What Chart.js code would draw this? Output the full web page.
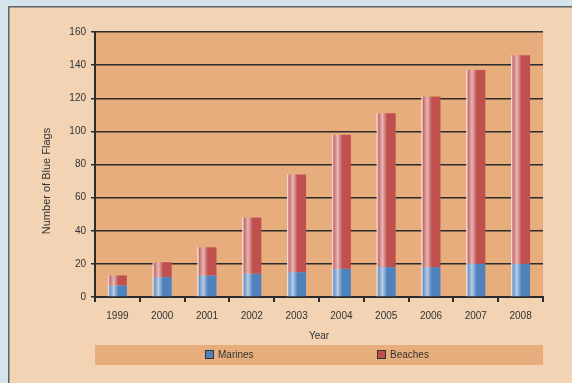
<!DOCTYPE html>
<html>
<head>
<meta charset="utf-8">
<script src="https://cdn.jsdelivr.net/npm/chart.js@4.4.1/dist/chart.umd.min.js"></script>
<style>
  html, body { margin: 0; padding: 0; background: #d5e4ec; }
  #wrap { width: 572px; height: 383px; }
</style>
</head>
<body>
<div id="wrap"><canvas id="flags" width="572" height="383"></canvas></div>
<script>
// ----------------------- Data ----------------------------------
const years = ['1999', '2000', '2001', '2002', '2003', '2004', '2005', '2006', '2007', '2008'];
const marines = [7, 12, 13, 14, 15, 17, 18, 18, 20, 20];
const beaches = [6, 9, 17, 34, 59, 81, 93, 103, 117, 126];
const yTicks = [0, 20, 40, 60, 80, 100, 120, 140, 160];

const BLUE = '#4f81bd';
const RED = '#c0504d';
const AXIS = '#2b2b2b';
const FONT = { family: 'Arial, "Liberation Sans", sans-serif', size: 10 };

// bar fill: white on the left edge, fading into the series colour
function barFill(color) {
  return function(context) {
    const chart = context.chart;
    const area = chart.chartArea;
    const xScale = chart.scales.x;
    if (!area || !xScale) return color;
    const cx = xScale.getPixelForValue(context.dataIndex);
    const w = (area.width / years.length) * 0.8 * 0.53;
    const c = Chart.helpers.color;
    const g = chart.ctx.createLinearGradient(cx - w / 2, 0, cx + w / 2, 0);
    g.addColorStop(0, '#ffffff');
    g.addColorStop(0.1, c(color).mix(c('#ffffff'), 0.85).hexString());
    g.addColorStop(0.3, c(color).mix(c('#ffffff'), 0.4).hexString());
    g.addColorStop(0.55, color);
    g.addColorStop(1, color);
    return g;
  };
}

// page panel, plot background, y title and legend strip
const backdrop = {
  id: 'backdrop',
  beforeDraw(chart) {
    const { ctx, chartArea: a } = chart;
    ctx.save();
    ctx.fillStyle = '#d5e4ec';
    ctx.fillRect(0, 0, chart.width, chart.height);
    ctx.fillStyle = '#f2d3b4';
    ctx.fillRect(8, 6, chart.width - 8, chart.height - 6);
    ctx.strokeStyle = '#5f6468';
    ctx.lineWidth = 1.5;
    ctx.beginPath();
    ctx.moveTo(8.75, chart.height);
    ctx.lineTo(8.75, 6.75);
    ctx.lineTo(chart.width, 6.75);
    ctx.stroke();
    ctx.fillStyle = '#e8ad7c';
    ctx.fillRect(a.left, a.top, a.width, a.bottom - a.top);
    ctx.restore();
  },
  afterDraw(chart) {
    const { ctx, chartArea: a } = chart;

    // y axis title sits a bit below the middle of the plot
    ctx.save();
    ctx.translate(47, 181);
    ctx.rotate(-Math.PI / 2);
    ctx.font = '11px Arial, "Liberation Sans", sans-serif';
    ctx.fillStyle = '#333';
    ctx.textAlign = 'center';
    ctx.textBaseline = 'middle';
    ctx.fillText('Number of Blue Flags', 0, 0);
    ctx.restore();

    const top = 345;
    ctx.save();
    ctx.fillStyle = '#e8ad7c';
    ctx.fillRect(a.left, top, a.width, 20);
    ctx.font = '10px Arial, "Liberation Sans", sans-serif';
    ctx.textBaseline = 'middle';
    const items = [
      { text: 'Marines', color: BLUE, x: a.left + 110 },
      { text: 'Beaches', color: RED, x: a.left + 282 }
    ];
    items.forEach(it => {
      ctx.fillStyle = it.color;
      ctx.fillRect(it.x, top + 5, 9, 9);
      ctx.strokeStyle = '#333';
      ctx.lineWidth = 1;
      ctx.strokeRect(it.x + 0.5, top + 5.5, 8, 8);
      ctx.fillStyle = '#333';
      ctx.fillText(it.text, it.x + 13, top + 10);
    });
    ctx.restore();
  }
};

new Chart(document.getElementById('flags'), {
  type: 'bar',
  data: {
    labels: years,
    datasets: [
      { label: 'Marines', data: marines, backgroundColor: barFill(BLUE), borderWidth: 0 },
      { label: 'Beaches', data: beaches, backgroundColor: barFill(RED), borderWidth: 0 }
    ]
  },
  options: {
    responsive: false,
    animation: false,
    categoryPercentage: 0.8,
    barPercentage: 0.53,
    layout: { padding: { left: 30, top: 32, right: 29, bottom: 41 } },
    plugins: { legend: { display: false }, tooltip: { enabled: false } },
    scales: {
      x: {
        stacked: true,
        afterFit: scale => { scale.height = 45; },
        grid: { display: true, drawOnChartArea: false, drawTicks: true, tickLength: 5, color: AXIS, lineWidth: 2 },
        border: { color: AXIS, width: 2 },
        ticks: { color: '#333', font: FONT, padding: 8, maxRotation: 0 },
        title: { display: true, text: 'Year', color: '#333', font: FONT, padding: { top: 0, bottom: 0 } }
      },
      y: {
        stacked: true,
        min: 0,
        max: 160,
        afterFit: scale => { scale.width = 65; },
        afterBuildTicks: scale => { scale.ticks = yTicks.map(v => ({ value: v })); },
        grid: { color: AXIS, lineWidth: 1.5, tickLength: 4 },
        border: { color: AXIS, width: 2 },
        ticks: { color: '#333', font: FONT, padding: 5 },
        title: { display: false }
      }
    }
  },
  plugins: [backdrop]
});
</script>
</body>
</html>
